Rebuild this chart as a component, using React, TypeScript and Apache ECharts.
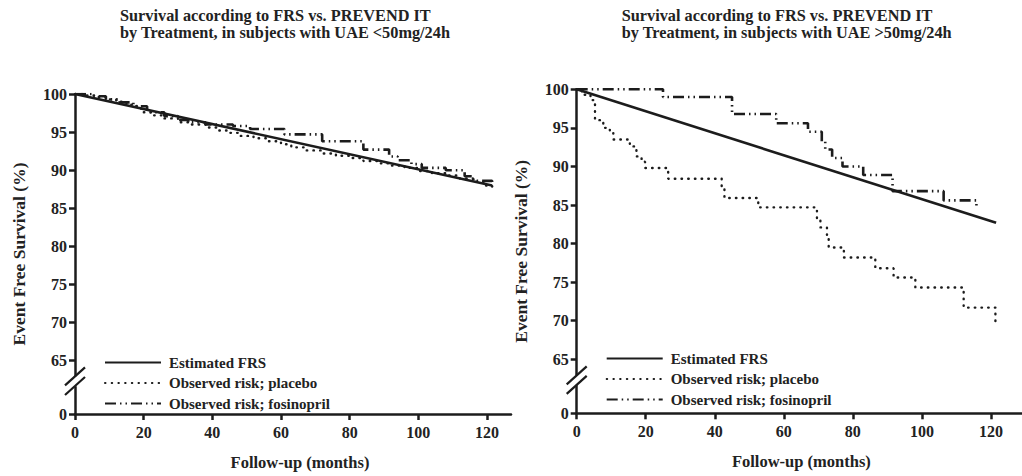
import React, { useEffect, useRef } from "react";
import * as echarts from "echarts";

// ---------- data ----------
const seriesNames = ["Estimated FRS", "Observed risk; placebo", "Observed risk; fosinopril"];
const titleLow = "Survival according to FRS vs. PREVEND IT\nby Treatment, in subjects with UAE <50mg/24h";
const titleHigh = "Survival according to FRS vs. PREVEND IT\nby Treatment, in subjects with UAE >50mg/24h";
const xAxisTitle = "Follow-up (months)";
const yAxisTitle = "Event Free Survival (%)";
const xTicks = [0, 20, 40, 60, 80, 100, 120];
// 58 is drawn as "0" below the axis break
const yTicks = [58, 65, 70, 75, 80, 85, 90, 95, 100];
const yBreakBottom = 58;
const yBreakMark = 62.3;

// UAE < 50 mg/24h  (event points, [month, survival %])
const lowFrs = [[0, 100], [121.5, 88.0]];
const lowPlacebo = [
  [0, 100], [3, 99.8], [6, 99.6], [9, 99.3], [12, 99.0], [15, 98.6], [18, 98.1], [20, 97.6],
  [23, 97.2], [26, 96.8], [30, 96.3], [34, 96.0], [38, 95.6], [42, 95.2], [45, 94.9], [48, 94.5],
  [52, 94.2], [56, 93.8], [60, 93.4], [63, 93.0], [67, 92.6], [72, 92.2], [76, 91.9], [80, 91.6],
  [84, 91.2], [88, 90.9], [92, 90.6], [96, 90.3], [100, 89.9], [104, 89.6], [108, 89.3],
  [112, 88.9], [116, 88.5], [119, 88.0], [121.5, 87.4],
];
const lowFosinopril = [
  [0, 100], [5, 99.7], [9, 99.3], [13, 98.9], [17, 98.4], [21, 97.6], [26, 97.1], [30, 96.6],
  [33, 96.3], [38, 96.0], [46, 95.8], [51, 95.4], [61, 94.7], [72, 93.8], [84, 92.7],
  [91.5, 91.8], [94, 91.3], [98, 90.8], [101, 90.3], [108, 90.0], [113.5, 89.2], [116, 88.6],
  [121.5, 87.9],
];

// UAE > 50 mg/24h
const highFrs = [[0, 100], [121.5, 82.7]];
const highPlacebo = [
  [0, 100], [1.5, 99.3], [4, 98.6], [5.3, 96.0], [7.7, 95.0], [9.6, 94.4], [10.6, 93.5],
  [15.4, 92.6], [17.3, 91.3], [18.8, 90.6], [19.8, 89.8], [26.5, 88.4], [42, 87.2], [42.8, 85.9],
  [52.6, 84.7], [69.6, 83.3], [70.6, 82.1], [72.5, 80.6], [73, 79.5], [77.4, 78.2], [86.5, 76.8],
  [91.8, 75.6], [98.1, 74.3], [112.1, 71.7], [121.3, 69.5],
];
const highFosinopril = [
  [0, 100], [25, 99.0], [45, 96.8], [57.8, 95.6], [67, 94.5], [71, 93.2], [72, 92.2], [74, 91.1],
  [77, 90.0], [83, 88.9], [91.5, 86.8], [106.3, 85.6], [115.8, 84.9],
];

// ---------- styles ----------
const FONT = '"Liberation Serif", "Times New Roman", serif';
const INK = "#1c1c1c";
const TEXT = "#222";

const lineStyles = [
  { color: INK, width: 2.6, type: "solid" },
  { color: INK, width: 2.4, type: [0.5, 6.2], cap: "round" },
  { color: INK, width: 2.6, type: [11, 4, 1.5, 4, 1.5, 4], cap: "butt" },
];

export default function App() {
  const ref = useRef<HTMLDivElement>(null);

  useEffect(() => {
    document.body.style.margin = "0";
    const chart = echarts.init(ref.current!, null, { renderer: "svg" });

    const grids = [
      { left: 75, top: 94, width: 436, height: 322.7 },
      { left: 576.7, top: 89.3, width: 445.7, height: 324 },
    ];
    const xMax = [127, 129];
    const xNameShift = [14, 4];

    const mkX = (gi: number) => ({
      type: "value",
      gridIndex: gi,
      min: 0,
      max: xMax[gi],
      name: xAxisTitle,
      nameLocation: "middle",
      nameGap: 40,
      nameTextStyle: {
        fontFamily: FONT,
        fontWeight: "bold",
        fontSize: 16.5,
        color: TEXT,
        padding: [0, 0, 0, xNameShift[gi]],
      },
      axisLine: { lineStyle: { color: INK, width: 2.5 } },
      axisTick: { show: true, length: 6, lineStyle: { color: INK, width: 2.5 }, customValues: xTicks },
      axisLabel: {
        customValues: xTicks,
        margin: 10,
        fontFamily: FONT,
        fontWeight: "bold",
        fontSize: 16,
        color: TEXT,
      },
      splitLine: { show: false },
    });

    const mkY = (gi: number) => ({
      type: "value",
      gridIndex: gi,
      min: yBreakBottom,
      max: 100,
      name: yAxisTitle,
      nameLocation: "middle",
      nameGap: 47,
      nameRotate: 90,
      nameTextStyle: { fontFamily: FONT, fontWeight: "bold", fontSize: 17.5, color: TEXT },
      axisLine: { lineStyle: { color: INK, width: 2.5 } },
      axisTick: { show: true, length: 6, lineStyle: { color: INK, width: 2.5 }, customValues: yTicks },
      axisLabel: {
        customValues: yTicks,
        margin: 8,
        fontFamily: FONT,
        fontWeight: "bold",
        fontSize: 16,
        color: TEXT,
        formatter: (v: number) => (v === yBreakBottom ? "0" : String(v)),
      },
      splitLine: { show: false },
    });

    const datasets = [
      [lowFrs, lowPlacebo, lowFosinopril],
      [highFrs, highPlacebo, highFosinopril],
    ];

    const series: any[] = [];
    datasets.forEach((group, gi) => {
      group.forEach((data, si) => {
        series.push({
          type: "line",
          name: seriesNames[si],
          xAxisIndex: gi,
          yAxisIndex: gi,
          data,
          step: si === 0 ? false : "end",
          symbol: "none",
          showSymbol: false,
          color: INK,
          itemStyle: { color: INK },
          lineStyle: lineStyles[si],
          z: 3 - si,
        });
      });
    });

    const legendCommon = {
      orient: "vertical",
      data: seriesNames,
      itemWidth: 56,
      itemHeight: 14,
      itemGap: 5.5,
      selectedMode: false,
      itemStyle: { opacity: 0 },
      textStyle: { fontFamily: FONT, fontWeight: "bold", fontSize: 15, color: TEXT, padding: [0, 0, 0, 3] },
    };

    const titleCommon = {
      textStyle: { fontFamily: FONT, fontWeight: "bold", fontSize: 16.3, lineHeight: 17, color: TEXT },
      padding: 0,
    };

    chart.setOption({
      animation: false,
      backgroundColor: "#fff",
      title: [
        { ...titleCommon, text: titleLow, left: 120, top: 7 },
        { ...titleCommon, text: titleHigh, left: 621.7, top: 7 },
      ],
      legend: [
        { ...legendCommon, left: 99, top: 350 },
        { ...legendCommon, left: 600.7, top: 346 },
      ],
      grid: grids,
      xAxis: [mkX(0), mkX(1)],
      yAxis: [mkY(0), mkY(1)],
      series,
    });

    // axis break marks "//" on each y axis
    const graphic: any[] = [];
    [0, 1].forEach((gi) => {
      const p = chart.convertToPixel({ gridIndex: gi } as any, [0, yBreakMark]) as number[];
      const [cx, cy] = p;
      graphic.push({
        type: "rect",
        shape: { x: cx - 3, y: cy - 5, width: 6, height: 10 },
        style: { fill: "#fff" },
        z: 100,
      });
      [-4.8, 4.8].forEach((d) => {
        graphic.push({
          type: "line",
          shape: { x1: cx - 10, y1: cy + d + 9, x2: cx + 10, y2: cy + d - 9 },
          style: { stroke: INK, lineWidth: 2.2 },
          z: 101,
        });
      });
    });
    chart.setOption({ graphic });

    return () => chart.dispose();
  }, []);

  return <div ref={ref} style={{ width: 1022, height: 476 }} />;
}
